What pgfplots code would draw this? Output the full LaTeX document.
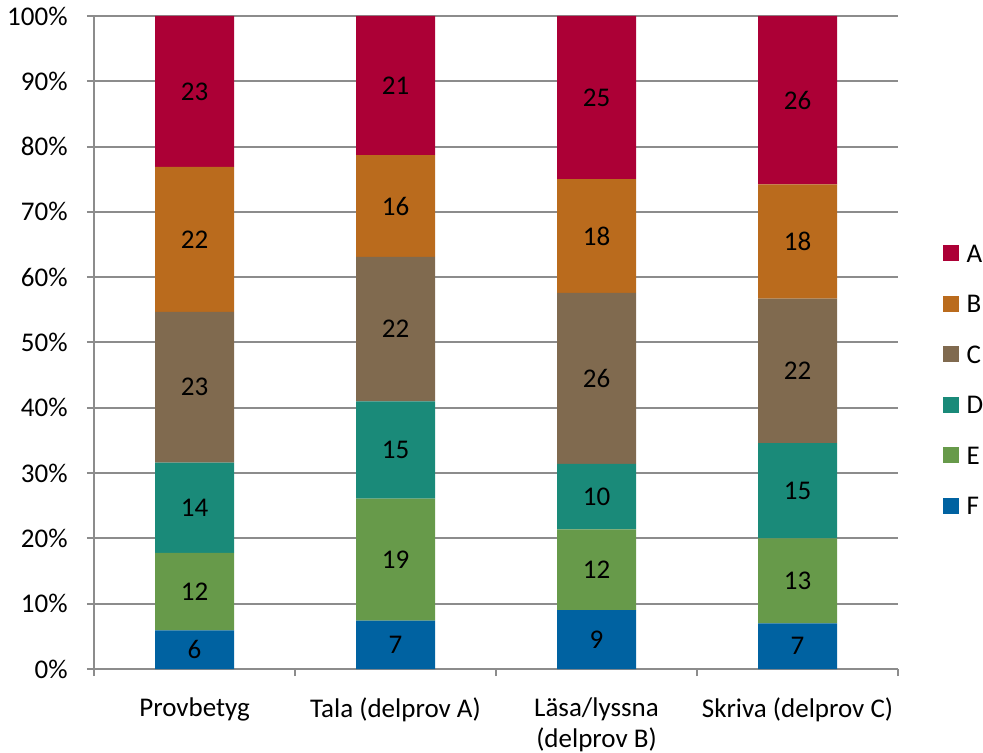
\documentclass[border=0pt]{standalone}
\usepackage{pgfplots}
\pgfplotsset{compat=1.18}
\usepackage{fontspec}
\setmainfont{Carlito}
\definecolor{cA}{HTML}{AC0036}
\definecolor{cB}{HTML}{BA6B1D}
\definecolor{cC}{HTML}{806A4F}
\definecolor{cD}{HTML}{1A8A79}
\definecolor{cE}{HTML}{679A4A}
\definecolor{cF}{HTML}{0062A1}
\definecolor{gridc}{HTML}{8C8C8C}
\newcommand{\chartfont}{\fontsize{13.5}{16}\selectfont}
\newcommand{\xlabfont}{\fontsize{13.5}{15.5}\selectfont}
\begin{document}
\chartfont
\begin{tikzpicture}
\useasboundingbox (-47pt,-42pt) rectangle (444.5pt,334.5pt);
\pgfplotsset{
  base/.style={
    at={(0pt,0pt)}, anchor=south west,
    scale only axis, width=402pt, height=326.5pt,
    xmin=-0.5, xmax=3.5, ymin=0, ymax=100,
  }
}
\begin{axis}[base,
  ybar stacked, bar width=39.5pt,
  axis x line*=bottom, axis y line*=left,
  axis line style={gridc, line width=1pt},
  ymajorgrids, major grid style={gridc, line width=1pt},
  tick align=outside, major tick length=3.5pt, minor tick length=3.5pt,
  ytick={0,10,...,100},
  yticklabels={0\%,10\%,20\%,30\%,40\%,50\%,60\%,70\%,80\%,90\%,100\%},
  major y tick style={gridc, line width=1pt},
  xtick={0,1,2,3},
  xticklabels={Provbetyg,Tala (delprov A),Läsa/lyssna\\(delprov B),Skriva (delprov C)},
  major x tick style={draw=none},
  minor xtick={-0.5,0.5,1.5,2.5,3.5},
  minor x tick style={gridc, line width=1pt},
  tick label style={font=\chartfont, text=black},
  xticklabel style={align=center, yshift=-6pt, font=\xlabfont},
  yticklabel style={xshift=-5pt},
  reverse legend,
  legend style={draw=none, fill=none, at={(1.0475,0.443)}, anchor=west,
    font=\chartfont, row sep=12.25pt,
    nodes={inner sep=2pt, text height=9pt, text depth=0pt}},
  legend cell align=left,
  legend image code/.code={\draw[#1, draw=none] (0pt,-4pt) rectangle (8pt,4pt); \path (10pt,0pt);},
]
\addplot[fill=cF, draw=none] coordinates {(0,5.9) (1,7.4) (2,9.0) (3,7.0)};
\addlegendentry{F}
\addplot[fill=cE, draw=none] coordinates {(0,11.9) (1,18.7) (2,12.4) (3,13.0)};
\addlegendentry{E}
\addplot[fill=cD, draw=none] coordinates {(0,13.8) (1,14.9) (2,10.0) (3,14.6)};
\addlegendentry{D}
\addplot[fill=cC, draw=none] coordinates {(0,23.1) (1,22.1) (2,26.2) (3,22.1)};
\addlegendentry{C}
\addplot[fill=cB, draw=none] coordinates {(0,22.2) (1,15.6) (2,17.4) (3,17.5)};
\addlegendentry{B}
\addplot[fill=cA, draw=none] coordinates {(0,23.1) (1,21.3) (2,25.0) (3,25.8)};
\addlegendentry{A}
\end{axis}
\begin{axis}[base, hide axis,
  nodes near coords, point meta=explicit symbolic,
  every node near coord/.style={anchor=center, font=\chartfont, text=black, inner sep=0pt},
]
\addplot[only marks, mark=none] coordinates {
  (0,2.95) [6] (0,11.85) [12] (0,24.7) [14] (0,43.15) [23] (0,65.8) [22] (0,88.45) [23]
  (1,3.7) [7] (1,16.75) [19] (1,33.55) [15] (1,52.05) [22] (1,70.9) [16] (1,89.35) [21]
  (2,4.5) [9] (2,15.2) [12] (2,26.4) [10] (2,44.5) [26] (2,66.3) [18] (2,87.5) [25]
  (3,3.5) [7] (3,13.5) [13] (3,27.3) [15] (3,45.65) [22] (3,65.45) [18] (3,87.1) [26]
};
\end{axis}
\end{tikzpicture}
\end{document}
